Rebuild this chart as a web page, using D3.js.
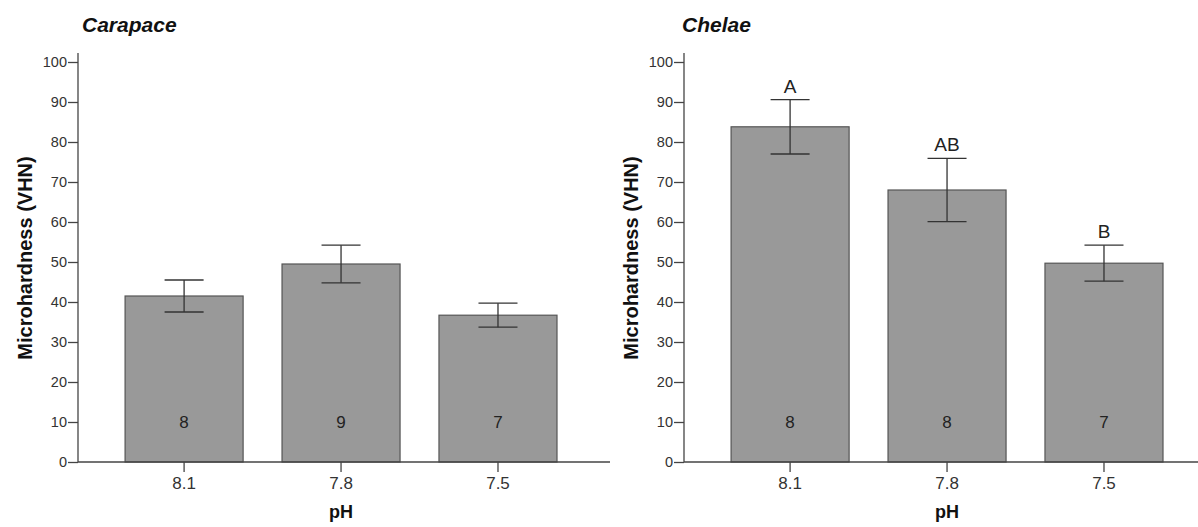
<!DOCTYPE html>
<html>
<head>
<meta charset="utf-8">
<script src="https://cdn.jsdelivr.net/npm/d3@7"></script>
<style>
  html, body { margin: 0; padding: 0; background: #fff; }
  svg { display: block; font-family: "Liberation Sans", Arial, sans-serif; }
</style>
</head>
<body>
<svg id="chart" width="1198" height="527"></svg>
<script>
// values
const phLevels = ["8.1", "7.8", "7.5"]
const yTicks = [0, 10, 20, 30, 40, 50, 60, 70, 80, 90, 100]

const carapaceMean = [41.5, 49.5, 36.7]
const carapaceErr = [4.0, 4.7, 3.0]
const carapaceN = [8, 9, 7]
const carapaceLetters = ["", "", ""]

const chelaeMean = [83.8, 68.0, 49.7]
const chelaeErr = [6.8, 7.9, 4.5]
const chelaeN = [8, 8, 7]
const chelaeLetters = ["A", "AB", "B"]

const panels = [
  { title: "Carapace", x0: 78, titleX: 82, mean: carapaceMean, err: carapaceErr, n: carapaceN, letters: carapaceLetters },
  { title: "Chelae", x0: 684, titleX: 682, mean: chelaeMean, err: chelaeErr, n: chelaeN, letters: chelaeLetters },
]

const svg = d3.select("#chart")
const plotTop = 62
const plotBottom = 462
const barSpan = 479
const axisLen = 532
const capW = 39

panels.forEach(p => {
  const g = svg.append("g")

  const y = d3.scaleLinear().domain([0, 100]).range([plotBottom, plotTop])
  const x = d3
    .scaleBand()
    .domain(phLevels)
    .range([p.x0, p.x0 + barSpan])
    .paddingInner(0.248)
    .paddingOuter(0.15)
    .align(1)

  const data = phLevels.map((ph, i) => ({
    ph,
    mean: p.mean[i],
    err: p.err[i],
    n: p.n[i],
    letter: p.letters[i],
  }))

  // bars
  g.append("g")
    .selectAll("rect")
    .data(data)
    .join("rect")
    .attr("x", d => x(d.ph))
    .attr("y", d => y(d.mean))
    .attr("width", x.bandwidth())
    .attr("height", d => y(0) - y(d.mean))
    .attr("fill", "#999999")
    .attr("stroke", "#555")
    .attr("stroke-width", 1.2)

  // error bars
  const eb = g.append("g").attr("stroke", "#333").attr("stroke-width", 1.3)
  const cx = d => x(d.ph) + x.bandwidth() / 2
  eb.selectAll(".stem")
    .data(data)
    .join("line")
    .attr("class", "stem")
    .attr("x1", cx).attr("x2", cx)
    .attr("y1", d => y(d.mean + d.err))
    .attr("y2", d => y(d.mean - d.err))
  eb.selectAll(".capTop")
    .data(data)
    .join("line")
    .attr("class", "capTop")
    .attr("x1", d => cx(d) - capW / 2).attr("x2", d => cx(d) + capW / 2)
    .attr("y1", d => y(d.mean + d.err)).attr("y2", d => y(d.mean + d.err))
  eb.selectAll(".capBot")
    .data(data)
    .join("line")
    .attr("class", "capBot")
    .attr("x1", d => cx(d) - capW / 2).attr("x2", d => cx(d) + capW / 2)
    .attr("y1", d => y(d.mean - d.err)).attr("y2", d => y(d.mean - d.err))

  // sample sizes
  g.append("g")
    .selectAll("text")
    .data(data)
    .join("text")
    .attr("x", cx)
    .attr("y", 428)
    .attr("text-anchor", "middle")
    .attr("font-size", 17)
    .attr("fill", "#222")
    .text(d => d.n)

  // significance letters
  g.append("g")
    .selectAll("text")
    .data(data)
    .join("text")
    .attr("x", cx)
    .attr("y", d => y(d.mean + d.err) - 7)
    .attr("text-anchor", "middle")
    .attr("font-size", 19)
    .attr("fill", "#222")
    .text(d => d.letter)

  // y axis
  g.append("g")
    .attr("transform", `translate(${p.x0},0)`)
    .call(d3.axisLeft(y).tickValues(yTicks).tickSize(10).tickPadding(1))
    .call(a => a.select(".domain").attr("d", `M0,${plotTop - 9}V${plotBottom}`))
    .call(a => a.selectAll("line, path").attr("stroke", "#444").attr("stroke-width", 1.3))
    .call(a => a.selectAll("text").attr("font-size", 14.5).attr("fill", "#333").attr("font-family", "Liberation Sans, Arial, sans-serif"))

  // x axis
  const xAxis = d3.axisBottom(x).tickSize(10).tickPadding(5)
  g.append("g")
    .attr("transform", `translate(0,${plotBottom})`)
    .call(xAxis)
    .call(a => a.select(".domain").attr("d", `M${p.x0},0H${p.x0 + axisLen}`))
    .call(a => a.selectAll("line, path").attr("stroke", "#444").attr("stroke-width", 1.3))
    .call(a => a.selectAll("text").attr("font-size", 17).attr("fill", "#333").attr("font-family", "Liberation Sans, Arial, sans-serif"))

  // axis titles
  const barsMid = (x(phLevels[0]) + x(phLevels[2]) + x.bandwidth()) / 2
  g.append("text")
    .attr("x", barsMid)
    .attr("y", 518)
    .attr("text-anchor", "middle")
    .attr("font-size", 18)
    .attr("font-weight", "bold")
    .attr("fill", "#111")
    .text("pH")

  g.append("text")
    .attr("transform", `translate(${p.x0 - 46},258) rotate(-90)`)
    .attr("text-anchor", "middle")
    .attr("font-size", 20)
    .attr("font-weight", "bold")
    .attr("fill", "#111")
    .text("Microhardness (VHN)")

  g.append("text")
    .attr("x", p.titleX)
    .attr("y", 32)
    .attr("font-size", 21)
    .attr("font-weight", "bold")
    .attr("font-style", "italic")
    .attr("fill", "#111")
    .text(p.title)
})
</script>
</body>
</html>
